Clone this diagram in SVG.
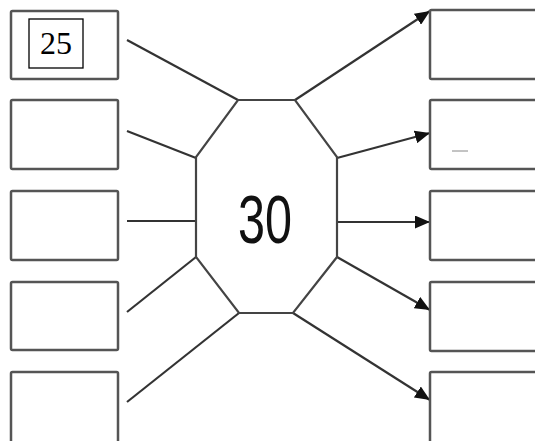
<svg xmlns="http://www.w3.org/2000/svg" width="535" height="441" viewBox="0 0 535 441">
<style>
.box{fill:#fff;stroke:#555;stroke-width:2.5}
.ln{stroke:#333;stroke-width:2.2;fill:none}
.oct{fill:#fff;stroke:#444;stroke-width:2.2}
</style>
<defs>
<marker id="ah" markerWidth="15" markerHeight="13" refX="15" refY="6.5" orient="auto" markerUnits="userSpaceOnUse">
<path d="M0,0 L15,6.5 L0,13 Z" fill="#111"/>
</marker>
</defs>
<rect width="535" height="441" fill="#fff"/>
<g id="connectors">
<line class="ln" x1="127" y1="40" x2="238" y2="100"/>
<line class="ln" x1="127" y1="131" x2="196" y2="158"/>
<line class="ln" x1="127" y1="221" x2="196" y2="221"/>
<line class="ln" x1="127" y1="312" x2="196" y2="257"/>
<line class="ln" x1="127" y1="402" x2="239" y2="313"/>
<line class="ln" x1="295" y1="100" x2="430" y2="11" marker-end="url(#ah)"/>
<line class="ln" x1="337" y1="158" x2="430" y2="133" marker-end="url(#ah)"/>
<line class="ln" x1="337" y1="222" x2="430" y2="222" marker-end="url(#ah)"/>
<line class="ln" x1="337" y1="257" x2="430" y2="310" marker-end="url(#ah)"/>
<line class="ln" x1="293" y1="313" x2="430" y2="400" marker-end="url(#ah)"/>
</g>
<g id="center">
<polygon class="oct" points="238,100 295,100 337,157 337,257 293,313 239,313 196,257 196,157"/>
<text x="265" y="243" font-family="Liberation Sans, Arial, sans-serif" font-size="68" text-anchor="middle" textLength="54" lengthAdjust="spacingAndGlyphs" fill="#111">30</text>
</g>
<g id="left1">
<rect class="box" x="11" y="11" width="107" height="68" rx="1.5"/>
<rect x="29" y="19" width="54" height="49" fill="#fff" stroke="#000" stroke-width="1.3"/>
<text x="56" y="54" font-family="Liberation Serif, Times New Roman, serif" font-size="32" text-anchor="middle" fill="#000">25</text>
</g>
<g id="left2"><rect class="box" x="11" y="100" width="107" height="69" rx="1.5"/></g>
<g id="left3"><rect class="box" x="11" y="191" width="107" height="69" rx="1.5"/></g>
<g id="left4"><rect class="box" x="11" y="282" width="107" height="68" rx="1.5"/></g>
<g id="left5"><rect class="box" x="11" y="372" width="107" height="75" rx="1.5"/></g>
<g id="right1"><rect class="box" x="430" y="10" width="115" height="69" rx="1.5"/></g>
<g id="right2"><rect class="box" x="430" y="100" width="115" height="69" rx="1.5"/>
<line x1="452" y1="151" x2="468" y2="151" stroke="#888" stroke-width="1"/></g>
<g id="right3"><rect class="box" x="430" y="191" width="115" height="69" rx="1.5"/></g>
<g id="right4"><rect class="box" x="430" y="282" width="115" height="69" rx="1.5"/></g>
<g id="right5"><rect class="box" x="430" y="372" width="115" height="75" rx="1.5"/></g>
</svg>
